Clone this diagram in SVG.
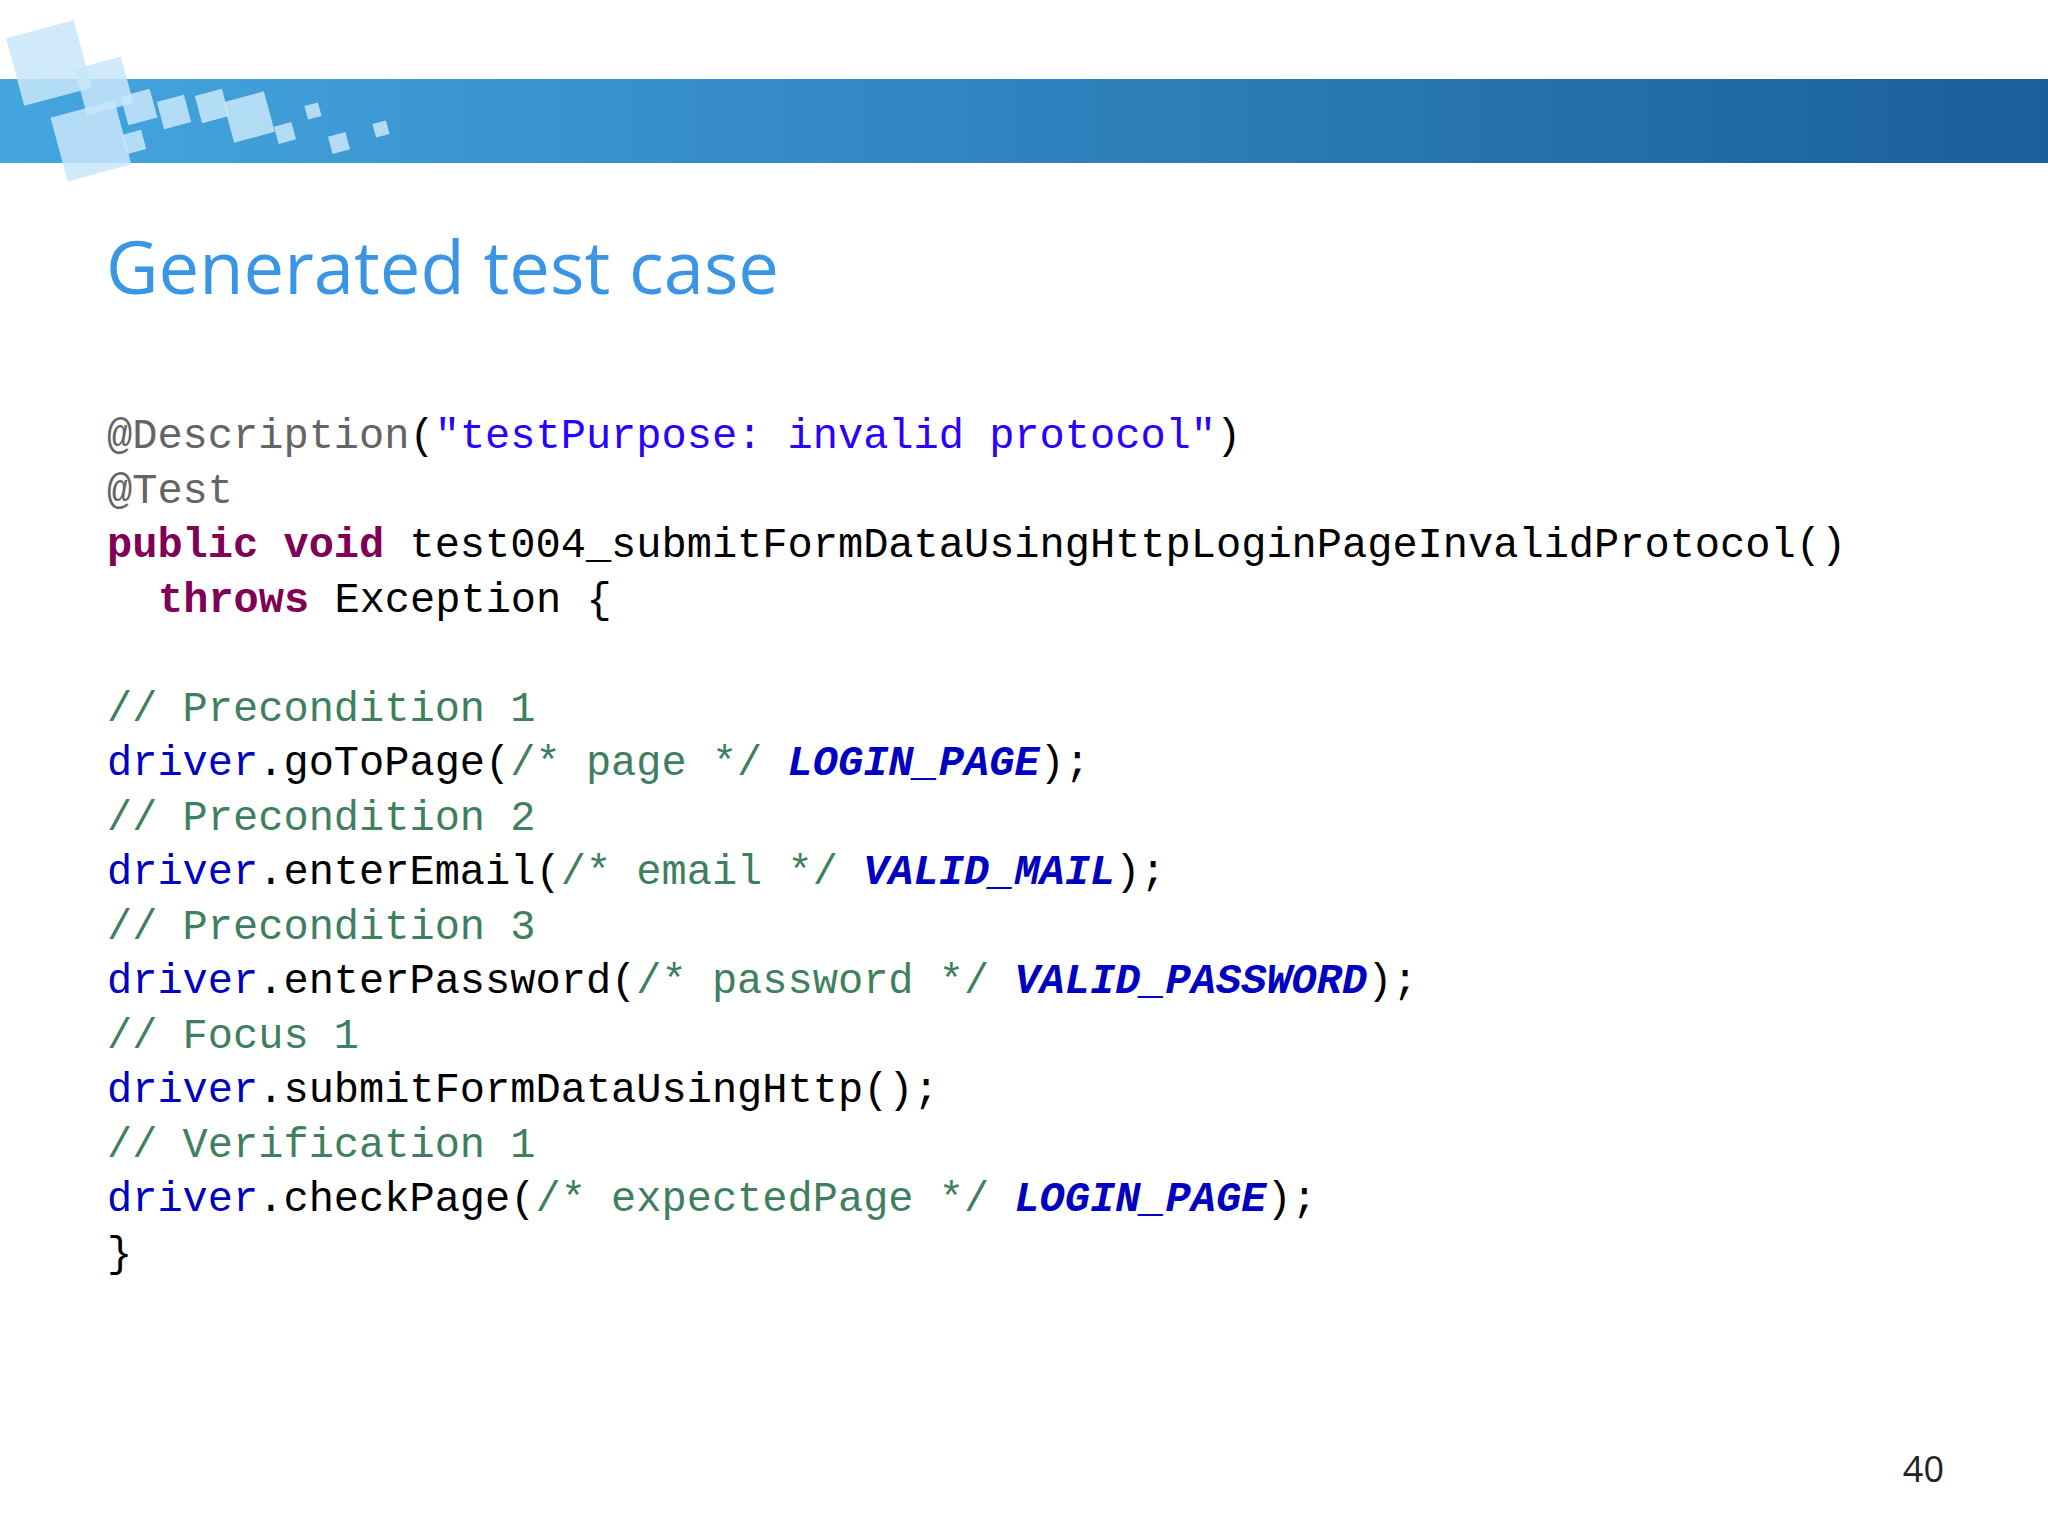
<svg xmlns="http://www.w3.org/2000/svg" width="2048" height="1535" viewBox="0 0 2048 1535">
<defs>
<linearGradient id="hb" x1="0" x2="1" y1="0" y2="0"><stop offset="0" stop-color="#45a6df"/><stop offset="1" stop-color="#1a5f9c"/></linearGradient>
<style>
.c{font-family:"Liberation Mono","DejaVu Sans Mono",monospace;font-size:42px;white-space:pre}
.a{fill:#646464}.s{fill:#2a00ff}.k{fill:#7f0055;font-weight:bold}.m{fill:#3f7f5f}.d{fill:#0000c0}.n{fill:#000}.i{fill:#0000c0;font-style:italic;font-weight:bold}
.sq{fill:#c8e6fa;opacity:0.85}
</style>
</defs>
<rect width="2048" height="1535" fill="#fff"/>
<g id="header">
<rect x="0" y="79" width="2048" height="84" fill="url(#hb)"/>
<rect class="sq" x="14" y="28" width="70" height="70" transform="rotate(-15 49 63)"/>
<rect class="sq" x="58" y="108" width="66" height="66" transform="rotate(-15 91 141)"/>
<rect class="sq" x="80" y="62" width="48" height="48" transform="rotate(-15 104 86)"/>
<rect class="sq" x="124" y="92" width="30" height="30" transform="rotate(-15 139 107)"/>
<rect class="sq" x="160" y="98" width="28" height="28" transform="rotate(-15 174 112)"/>
<rect class="sq" x="198" y="92" width="28" height="28" transform="rotate(-15 212 106)"/>
<rect class="sq" x="228" y="96" width="42" height="42" transform="rotate(-15 249 117)"/>
<rect class="sq" x="124" y="132" width="20" height="20" transform="rotate(-15 134 142)"/>
<rect class="sq" x="276" y="124" width="18" height="18" transform="rotate(-15 285 133)"/>
<rect class="sq" x="306" y="104" width="14" height="14" transform="rotate(-15 313 111)"/>
<rect class="sq" x="330" y="134" width="18" height="18" transform="rotate(-15 339 143)"/>
<rect class="sq" x="374" y="122" width="14" height="14" transform="rotate(-15 381 129)"/>
</g>
<text id="title" x="106" y="294" font-family="'Open Sans',Lato,sans-serif" font-size="74" fill="#3a95e4" textLength="673" lengthAdjust="spacingAndGlyphs">Generated test case</text>
<g id="code" class="c">
<text x="107" y="448"><tspan class="a">@Description</tspan><tspan class="n">(</tspan><tspan class="s">"testPurpose: invalid protocol"</tspan><tspan class="n">)</tspan></text>
<text x="107" y="502.5"><tspan class="a">@Test</tspan></text>
<text x="107" y="557"><tspan class="k">public void</tspan><tspan class="n"> test004_submitFormDataUsingHttpLoginPageInvalidProtocol()</tspan></text>
<text x="158" y="611.5"><tspan class="k">throws</tspan><tspan class="n"> Exception {</tspan></text>
<text x="107" y="720.5"><tspan class="m">// Precondition 1</tspan></text>
<text x="107" y="775"><tspan class="d">driver</tspan><tspan class="n">.goToPage(</tspan><tspan class="m">/* page */</tspan><tspan class="n"> </tspan><tspan class="i">LOGIN_PAGE</tspan><tspan class="n">);</tspan></text>
<text x="107" y="829.5"><tspan class="m">// Precondition 2</tspan></text>
<text x="107" y="884"><tspan class="d">driver</tspan><tspan class="n">.enterEmail(</tspan><tspan class="m">/* email */</tspan><tspan class="n"> </tspan><tspan class="i">VALID_MAIL</tspan><tspan class="n">);</tspan></text>
<text x="107" y="938.5"><tspan class="m">// Precondition 3</tspan></text>
<text x="107" y="993"><tspan class="d">driver</tspan><tspan class="n">.enterPassword(</tspan><tspan class="m">/* password */</tspan><tspan class="n"> </tspan><tspan class="i">VALID_PASSWORD</tspan><tspan class="n">);</tspan></text>
<text x="107" y="1047.5"><tspan class="m">// Focus 1</tspan></text>
<text x="107" y="1102"><tspan class="d">driver</tspan><tspan class="n">.submitFormDataUsingHttp();</tspan></text>
<text x="107" y="1156.5"><tspan class="m">// Verification 1</tspan></text>
<text x="107" y="1211"><tspan class="d">driver</tspan><tspan class="n">.checkPage(</tspan><tspan class="m">/* expectedPage */</tspan><tspan class="n"> </tspan><tspan class="i">LOGIN_PAGE</tspan><tspan class="n">);</tspan></text>
<text x="107" y="1265.5"><tspan class="n">}</tspan></text>
</g>
<text id="page" x="1944" y="1482" text-anchor="end" font-family="'Open Sans',sans-serif" font-size="36" fill="#222">40</text>
</svg>
